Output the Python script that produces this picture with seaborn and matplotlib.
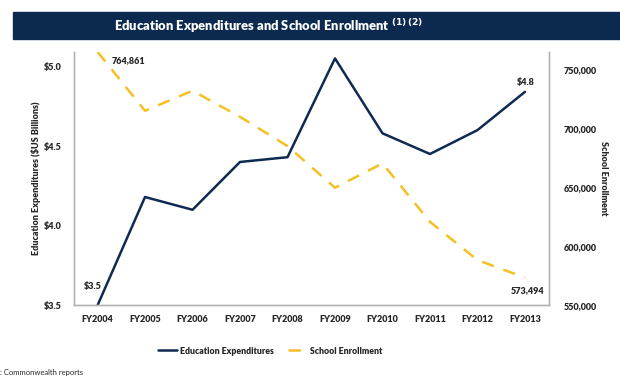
import matplotlib
matplotlib.use("Agg")
import matplotlib.pyplot as plt
import seaborn as sns
import pandas as pd
from matplotlib.patches import Rectangle
from matplotlib.ticker import FuncFormatter

# data
years = ['FY2004', 'FY2005', 'FY2006', 'FY2007', 'FY2008',
         'FY2009', 'FY2010', 'FY2011', 'FY2012', 'FY2013']
expenditures = [3.50, 4.18, 4.10, 4.40, 4.43, 5.05, 4.58, 4.45, 4.60, 4.84]
enrollment = [764861, 714900, 731900, 709800, 685000,
              649700, 670300, 620800, 588400, 573494]

navy = '#0f2a52'
gold = '#f5c023'
grey = '#b3b3b3'
W = 'heavy'

sns.set_theme(style='white')
plt.rcParams['font.family'] = ['Lato', 'DejaVu Sans']
plt.rcParams['font.weight'] = W

df = pd.DataFrame({'year': years, 'exp': expenditures, 'enr': enrollment})
df['pos'] = range(len(years))

fig = plt.figure(figsize=(6.2, 3.77), dpi=100)
ax = fig.add_axes([0.119, 0.19, 0.766, 0.672])
ax2 = ax.twinx()

sns.lineplot(data=df, x='pos', y='exp', ax=ax, color=navy, linewidth=1.8,
             label='Education Expenditures', legend=False)
sns.lineplot(data=df, x='pos', y='enr', ax=ax2, color=gold, linewidth=1.8,
             label='School Enrollment', legend=False)
ax2.lines[0].set_dashes([5, 4])

ax.set_xlim(-0.5, len(years) - 0.5)
ax.set_ylim(3.5, 5.09)
ax2.set_ylim(550000, 764700)
ax.set_xticks(df['pos'])
ax.set_xticklabels(years, fontweight=W)
ax.set_yticks([3.5, 4.0, 4.5, 5.0])
ax.yaxis.set_major_formatter(FuncFormatter(lambda v, p: f'${v:.1f}'))
ax2.set_yticks([550000, 600000, 650000, 700000, 750000])
ax2.yaxis.set_major_formatter(FuncFormatter(lambda v, p: f'{int(v):,}'))

for a in (ax, ax2):
    a.tick_params(length=0, labelsize=6.5)
    a.spines['top'].set_visible(False)
    for s in ('left', 'bottom', 'right'):
        a.spines[s].set_color(grey)
        a.spines[s].set_linewidth(1.0)
ax.tick_params(axis='y', pad=9)
ax.tick_params(axis='x', pad=7)
ax2.tick_params(axis='y', pad=11)

ax.set_xlabel('')
ax.set_ylabel('Education Expenditures ($US Billions)', fontsize=6.5,
              fontweight=W, labelpad=2)
ax2.set_ylabel('School Enrollment', fontsize=6.5, fontweight=W,
               rotation=270, labelpad=8)

# data labels
ax.annotate(f'${expenditures[0]:.1f}', (0, expenditures[0]), xytext=(-10, 12),
            textcoords='offset points', fontsize=6.5, fontweight=W)
ax.annotate(f'${expenditures[-1]:.1f}', (9, expenditures[-1]), xytext=(-6, 5),
            textcoords='offset points', fontsize=6.5, fontweight=W)
ax2.annotate(f'{enrollment[0]:,}', (0, enrollment[0]), xytext=(10, -8),
             textcoords='offset points', fontsize=6.5, fontweight=W)
ax2.annotate(f'{enrollment[-1]:,}', (9, enrollment[-1]), xytext=(-10, -11),
             textcoords='offset points', fontsize=6.5, fontweight=W)

# title banner
fig.patches.append(Rectangle((13 / 620, 1 - 39 / 377), 1, 27 / 377,
                             transform=fig.transFigure, color='#0c2a50',
                             zorder=0))
fig.text(269 / 620, 1 - 26 / 377,
         'Education Expenditures and School Enrollment $^{(1)\\,(2)}$',
         color='white', fontsize=9.4, fontweight=W,
         ha='center', va='center')

handles = ax.get_lines()[:1] + ax2.get_lines()[:1]
fig.legend(handles, ['Education Expenditures', 'School Enrollment'],
           loc='center', bbox_to_anchor=(270 / 620, 1 - 351 / 377), ncol=2,
           frameon=False, handlelength=2.2, columnspacing=1.6,
           handletextpad=0.4, prop={'weight': W, 'size': 6.2})

fig.text(0.0, 1 - 372 / 377, ': Commonwealth reports', fontsize=5.5,
         fontweight='normal', ha='left', va='center')

fig.savefig('out.png', dpi=100)
